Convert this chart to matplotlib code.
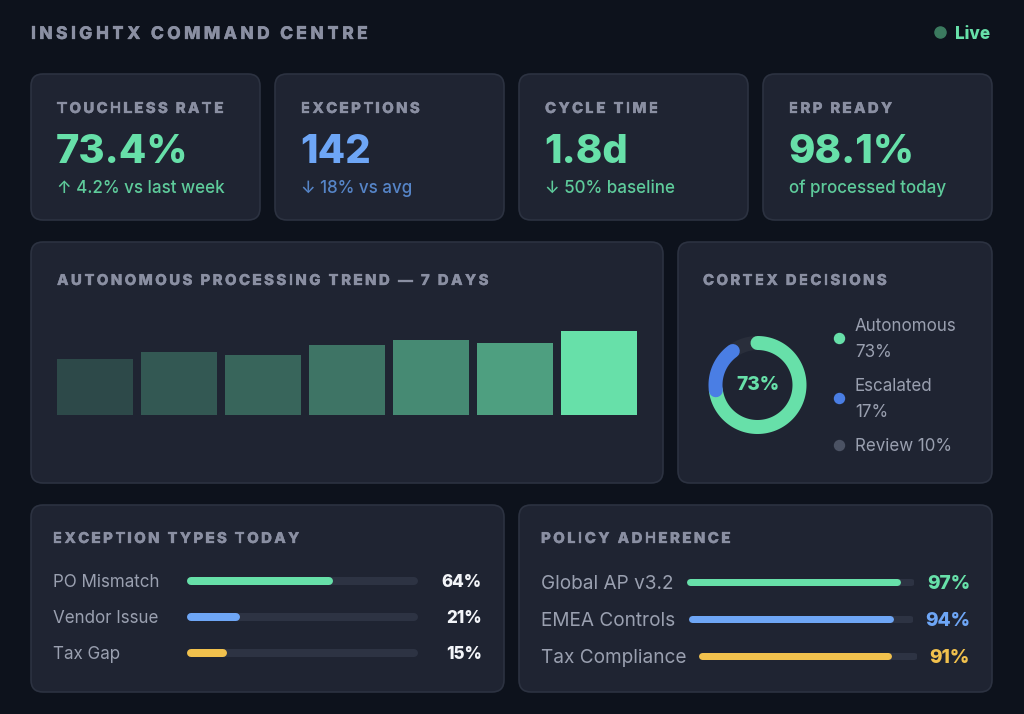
import numpy as np
import matplotlib.pyplot as plt
import matplotlib.patheffects as pe
from matplotlib import font_manager as fm
from matplotlib.colors import to_rgb
from matplotlib.ft2font import FT2Font
from matplotlib.patches import FancyBboxPatch

plt.rcParams['font.family'] = ['Inter', 'DejaVu Sans']

# ---- data ----
kpi_labels = ['TOUCHLESS RATE', 'EXCEPTIONS', 'CYCLE TIME', 'ERP READY']
kpi_values = ['73.4%', '142', '1.8d', '98.1%']
kpi_notes = ['↑ 4.2% vs last week', '↓ 18% vs avg', '↓ 50% baseline', 'of processed today']

trend_days = ['Mon', 'Tue', 'Wed', 'Thu', 'Fri', 'Sat', 'Sun']
trend_rate = [49, 55, 52, 61, 65, 63, 73]

decision_labels = ['Autonomous', 'Escalated', 'Review']
decision_share = [73, 17, 10]

exc_types = ['PO Mismatch', 'Vendor Issue', 'Tax Gap']
exc_share = [64, 21, 15]

policy_names = ['Global AP v3.2', 'EMEA Controls', 'Tax Compliance']
policy_scores = [97, 94, 91]

# ---- style ----
W, H = 1024, 714
PT = 0.72
BG = '#0d121c'
CARD = '#1f2432'
BORDER = '#2c3241'
GREY = '#8a8fa2'
TEXT = '#9aa0b0'
GREEN = '#67e0a9'
GREEN_DIM = '#5ecb9b'
BLUE = '#6ea6f6'
BLUE_DIM = '#5685c8'
BLUE_DARK = '#4a7ee4'
YELLOW = '#f1c14d'
TRACK = '#2d3343'

fig = plt.figure(figsize=(W / 100, H / 100), dpi=100)
fig.patch.set_facecolor(BG)
ax0 = fig.add_axes([0, 0, 1, 1])
ax0.set_xlim(0, W)
ax0.set_ylim(H, 0)
ax0.axis('off')


def txt(x, y, s, px, color, weight='normal', ha='left'):
    return ax0.text(x, y, s, fontsize=px * PT, color=color, fontweight=weight,
                    ha=ha, va='baseline')


def tracked(x, y, s, px, color, spacing, weight='heavy'):
    # letter-spaced caps, one glyph at a time
    path = fm.findfont(fm.FontProperties(family='Inter', weight=weight))
    font = FT2Font(path)
    font.set_size(px * PT, 100)
    for ch in s:
        t = txt(x, y, ch, px, color, weight)
        t.set_path_effects([pe.withStroke(linewidth=0.2, foreground=color)])
        x += font.load_char(ord(ch)).linearHoriAdvance / 65536 + spacing


def card(x0, y0, x1, y1):
    ax0.add_patch(FancyBboxPatch((x0, y0), x1 - x0, y1 - y0,
                                 boxstyle='round,pad=0,rounding_size=12',
                                 fc=CARD, ec=BORDER, lw=1.2))


def sub_axes(x0, y0, x1, y1):
    a = fig.add_axes([x0 / W, 1 - y1 / H, (x1 - x0) / W, (y1 - y0) / H])
    a.set_facecolor('none')
    a.axis('off')
    return a


def progress(x0, x1, yc, value, color, thick):
    a = sub_axes(x0, yc - 10, x1, yc + 10)
    r = thick / 2
    ppu = (x1 - x0 - 2 * r) / 100
    a.set_xlim(-r / ppu, 100 + r / ppu)
    a.set_ylim(-1, 1)
    a.plot([0, 100], [0, 0], lw=thick * PT, color=TRACK, solid_capstyle='round')
    a.plot([0, value - 2 * r / ppu * value / 100], [0, 0], lw=thick * PT,
           color=color, solid_capstyle='round')


# header
tracked(31, 39, 'INSIGHTX COMMAND CENTRE', 17.5, GREY, 3.3)
ax0.plot([940], [32], 'o', ms=8, color='#3b7a5f')
txt(955, 39, 'Live', 17, GREEN, 'heavy')

# KPI cards
kpi_x = [31, 275, 519, 763]
kpi_colors = [GREEN, BLUE, GREEN, GREEN]
note_colors = [GREEN_DIM, BLUE_DIM, GREEN_DIM, GREEN_DIM]
for i, x in enumerate(kpi_x):
    card(x, 74, x + 229, 220)
    tracked(x + 26, 113, kpi_labels[i], 15, GREY, 2.3)
    txt(x + 25, 163, kpi_values[i], 40, kpi_colors[i], 'heavy')
    txt(x + 26, 193, kpi_notes[i], 17, note_colors[i], 'medium')

# trend card
card(31, 242, 663, 483)
tracked(57, 285, 'AUTONOMOUS PROCESSING TREND — 7 DAYS', 15, GREY, 2.4)
bax = sub_axes(57, 300, 637, 415)
bar_alpha = [0.2, 0.28, 0.35, 0.43, 0.55, 0.66, 1.0]
bw = 76 / 84
bax.bar(range(len(trend_rate)), trend_rate, width=bw,
        color=[(*to_rgb(GREEN), a) for a in bar_alpha])
bax.set_xlim(-bw / 2, len(trend_rate) - 1 + bw / 2)
bax.set_ylim(0, 100)

# cortex decisions
card(678, 242, 992, 483)
tracked(703, 285, 'CORTEX DECISIONS', 15, GREY, 2.3)
cx, cy = 757.5, 385
dax = sub_axes(cx - 60, cy - 60, cx + 60, cy + 60)
dax.set_xlim(-60, 60)
dax.set_ylim(-60, 60)
ring_colors = [GREEN, BLUE_DARK, '#292e3b']
cum = np.cumsum([0] + decision_share)
for k in [2, 0, 1]:
    t = np.radians(np.linspace(90 - 3.6 * cum[k], 90 - 3.6 * cum[k + 1], 120))
    dax.plot(42 * np.cos(t), 42 * np.sin(t), lw=14 * PT, color=ring_colors[k],
             solid_capstyle='round')
dax.text(0, 0, f'{decision_share[0]}%', fontsize=19 * PT, color=GREEN,
         fontweight='heavy', ha='center', va='center')

legend_dots = [GREEN, BLUE_DARK, '#4b5263']
ax0.plot([839], [338], 'o', ms=10 * PT, color=legend_dots[0])
txt(855, 331, decision_labels[0], 17, TEXT)
txt(855, 357, f'{decision_share[0]}%', 17, TEXT)
ax0.plot([839], [398], 'o', ms=10 * PT, color=legend_dots[1])
txt(855, 391, decision_labels[1], 17, TEXT)
txt(855, 417, f'{decision_share[1]}%', 17, TEXT)
ax0.plot([839], [445], 'o', ms=10 * PT, color=legend_dots[2])
txt(855, 451, f'{decision_labels[2]} {decision_share[2]}%', 17, TEXT)

# exception types
card(31, 505, 504, 692)
tracked(53, 543, 'EXCEPTION TYPES TODAY', 15, GREY, 2.3)
exc_colors = [GREEN, BLUE, YELLOW]
exc_y = [581, 617, 653]
for i, name in enumerate(exc_types):
    txt(53, exc_y[i] + 6, name, 17, TEXT)
    progress(187, 418, exc_y[i], exc_share[i], exc_colors[i], 8)
    txt(482, exc_y[i] + 6, f'{exc_share[i]}%', 17, '#f3f5f9', 'heavy', ha='right')

# policy adherence
card(519, 505, 992, 692)
tracked(541, 543, 'POLICY ADHERENCE', 15, GREY, 2.4)
pol_y = [582, 619, 656]
pol_x0 = [686, 688, 698]
pol_x1 = [914, 913, 917]
for i, name in enumerate(policy_names):
    txt(541, pol_y[i] + 7, name, 19, TEXT)
    progress(pol_x0[i], pol_x1[i], pol_y[i], policy_scores[i], exc_colors[i], 7)
    txt(970, pol_y[i] + 7, f'{policy_scores[i]}%', 19, exc_colors[i], 'heavy', ha='right')

fig.savefig('out.png', dpi=100, facecolor=BG)
